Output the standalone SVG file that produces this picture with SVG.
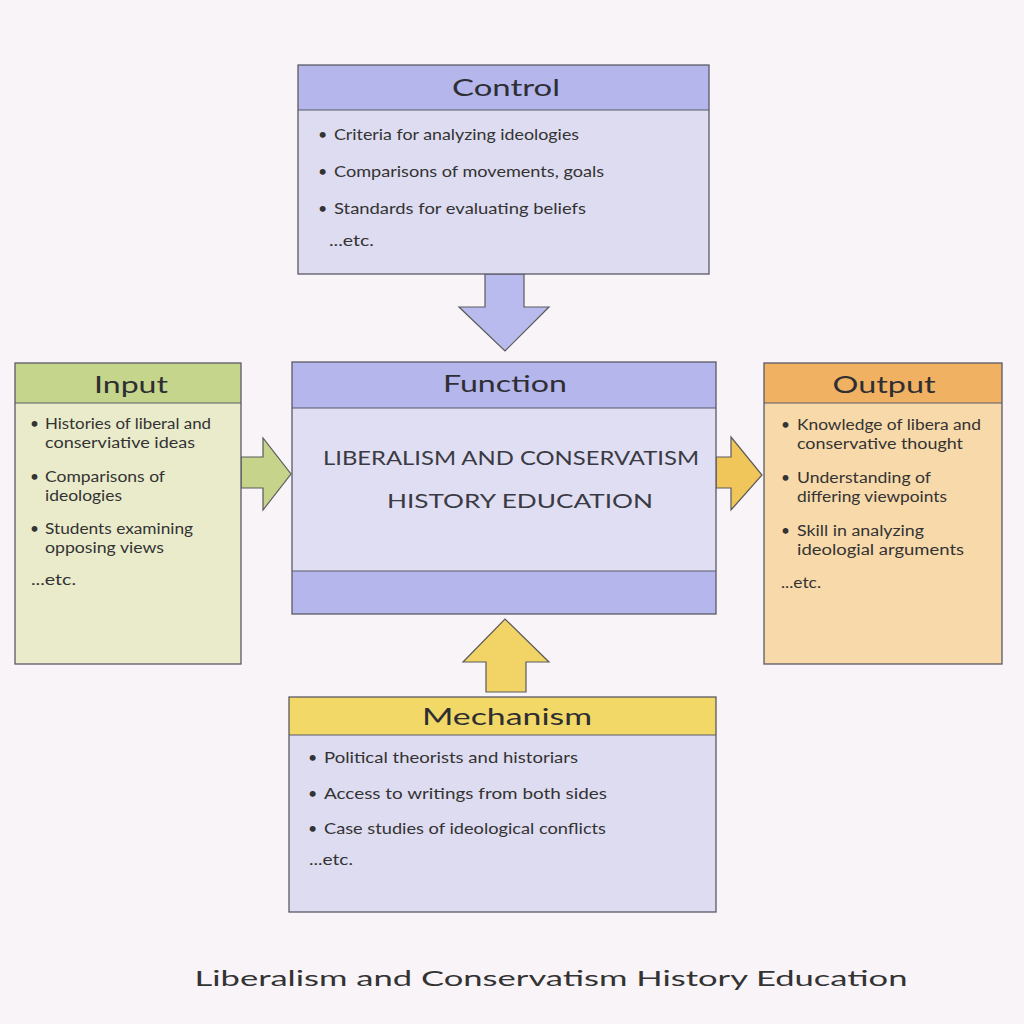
<svg xmlns="http://www.w3.org/2000/svg" width="1024" height="1024" viewBox="0 0 1024 1024">
<style>
text{font-family:Lato,"Open Sans","Noto Sans",sans-serif;fill:#333}
.box{stroke:#5a5a66;stroke-width:1.3}
.hdr{font-size:24px;text-anchor:middle;fill:#2e2e33}
.t{font-size:16px}
.s{font-size:15.5px}
.big{font-size:20px;fill:#3a3a44;text-anchor:middle}
.arr{stroke:#5a5a5a;stroke-width:1.2;stroke-linejoin:miter}
.sep{stroke:#5a5a66;stroke-width:1}
</style>
<rect width="1024" height="1024" fill="#f8f4f8"/>

<g id="connectors">
  <polygon class="arr" fill="#b9bbee" points="485,274 524,274 524,307 549,307 505,351 459,307 485,307"/>
  <polygon class="arr" fill="#c6d38a" points="241,457 263,457 263,438 291,474 263,510 263,488 241,488"/>
  <polygon class="arr" fill="#f0c65a" points="716,457 731,457 731,437 762,475 731,510 731,488 716,488"/>
  <polygon class="arr" fill="#f2d466" points="486,692 526,692 526,662 549,662 505,619 463,662 486,662"/>
</g>

<g id="control">
  <rect x="298" y="65" width="411" height="209" fill="#dedcf0"/>
  <rect x="298" y="65" width="411" height="45" fill="#b4b6ec"/>
  <line class="sep" x1="298" y1="110" x2="709" y2="110"/>
  <rect class="box" x="298" y="65" width="411" height="209" fill="none"/>
  <text class="hdr" x="506" y="96" textLength="108" lengthAdjust="spacingAndGlyphs">Control</text>
  <text class="t" x="318" y="140">•</text><text class="t" x="334" y="140" textLength="245" lengthAdjust="spacingAndGlyphs">Criteria for analyzing ideologies</text>
  <text class="t" x="318" y="177">•</text><text class="t" x="334" y="177" textLength="270" lengthAdjust="spacingAndGlyphs">Comparisons of movements, goals</text>
  <text class="t" x="318" y="214">•</text><text class="t" x="334" y="214" textLength="252" lengthAdjust="spacingAndGlyphs">Standards for evaluating beliefs</text>
  <text class="t" x="329" y="246" textLength="45" lengthAdjust="spacingAndGlyphs">...etc.</text>
</g>

<g id="input">
  <rect x="15" y="363" width="226" height="301" fill="#e9ebcb"/>
  <rect x="15" y="363" width="226" height="40" fill="#c6d58c"/>
  <line class="sep" x1="15" y1="403" x2="241" y2="403"/>
  <rect class="box" x="15" y="363" width="226" height="301" fill="none"/>
  <text class="hdr" x="131" y="393" textLength="74" lengthAdjust="spacingAndGlyphs">Input</text>
  <text class="s" x="30" y="429">•</text><text class="s" x="45" y="429" textLength="166" lengthAdjust="spacingAndGlyphs">Histories of liberal and</text>
  <text class="s" x="45" y="448" textLength="150" lengthAdjust="spacingAndGlyphs">conserviative ideas</text>
  <text class="s" x="30" y="482">•</text><text class="s" x="45" y="482" textLength="120" lengthAdjust="spacingAndGlyphs">Comparisons of</text>
  <text class="s" x="45" y="501" textLength="77" lengthAdjust="spacingAndGlyphs">ideologies</text>
  <text class="s" x="30" y="534">•</text><text class="s" x="45" y="534" textLength="148" lengthAdjust="spacingAndGlyphs">Students examining</text>
  <text class="s" x="45" y="553" textLength="119" lengthAdjust="spacingAndGlyphs">opposing views</text>
  <text class="s" x="31" y="585" textLength="45" lengthAdjust="spacingAndGlyphs">...etc.</text>
</g>

<g id="function">
  <rect x="292" y="362" width="424" height="252" fill="#e0def2"/>
  <rect x="292" y="362" width="424" height="46" fill="#b4b6ec"/>
  <rect x="292" y="571" width="424" height="43" fill="#b4b6ec"/>
  <line class="sep" x1="292" y1="408" x2="716" y2="408"/>
  <line class="sep" x1="292" y1="571" x2="716" y2="571"/>
  <rect class="box" x="292" y="362" width="424" height="252" fill="none"/>
  <text class="hdr" x="505" y="392" textLength="124" lengthAdjust="spacingAndGlyphs">Function</text>
  <text class="big" x="511" y="465" textLength="376" lengthAdjust="spacingAndGlyphs">LIBERALISM AND CONSERVATISM</text>
  <text class="big" x="520" y="508" textLength="266" lengthAdjust="spacingAndGlyphs">HISTORY EDUCATION</text>
</g>

<g id="output">
  <rect x="764" y="363" width="238" height="301" fill="#f8d9aa"/>
  <rect x="764" y="363" width="238" height="40" fill="#f0b262"/>
  <line class="sep" x1="764" y1="403" x2="1002" y2="403"/>
  <rect class="box" x="764" y="363" width="238" height="301" fill="none"/>
  <text class="hdr" x="884" y="393" textLength="103" lengthAdjust="spacingAndGlyphs">Output</text>
  <text class="s" x="781" y="430">•</text><text class="s" x="797" y="430" textLength="184" lengthAdjust="spacingAndGlyphs">Knowledge of libera and</text>
  <text class="s" x="797" y="449" textLength="166" lengthAdjust="spacingAndGlyphs">conservative thought</text>
  <text class="s" x="781" y="483">•</text><text class="s" x="797" y="483" textLength="134" lengthAdjust="spacingAndGlyphs">Understanding of</text>
  <text class="s" x="797" y="502" textLength="150" lengthAdjust="spacingAndGlyphs">differing viewpoints</text>
  <text class="s" x="781" y="536">•</text><text class="s" x="797" y="536" textLength="127" lengthAdjust="spacingAndGlyphs">Skill in analyzing</text>
  <text class="s" x="797" y="555" textLength="167" lengthAdjust="spacingAndGlyphs">ideologial arguments</text>
  <text class="s" x="781" y="588" textLength="40" lengthAdjust="spacingAndGlyphs">...etc.</text>
</g>

<g id="mechanism">
  <rect x="289" y="697" width="427" height="215" fill="#dedcf0"/>
  <rect x="289" y="697" width="427" height="38" fill="#f2d866"/>
  <line class="sep" x1="289" y1="735" x2="716" y2="735"/>
  <rect class="box" x="289" y="697" width="427" height="215" fill="none"/>
  <text class="hdr" x="507" y="725" textLength="170" lengthAdjust="spacingAndGlyphs">Mechanism</text>
  <text class="t" x="308" y="763">•</text><text class="t" x="324" y="763" textLength="254" lengthAdjust="spacingAndGlyphs">Political theorists and historiars</text>
  <text class="t" x="308" y="799">•</text><text class="t" x="324" y="799" textLength="283" lengthAdjust="spacingAndGlyphs">Access to writings from both sides</text>
  <text class="t" x="308" y="834">•</text><text class="t" x="324" y="834" textLength="282" lengthAdjust="spacingAndGlyphs">Case studies of ideological conflicts</text>
  <text class="t" x="309" y="865" textLength="44" lengthAdjust="spacingAndGlyphs">...etc.</text>
</g>

<text x="551" y="986" font-size="22" fill="#444" text-anchor="middle" textLength="713" lengthAdjust="spacingAndGlyphs">Liberalism and Conservatism History Education</text>
</svg>
